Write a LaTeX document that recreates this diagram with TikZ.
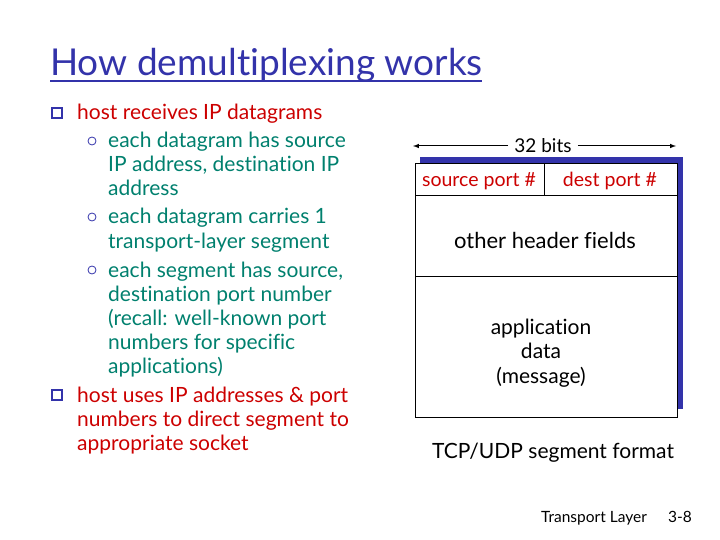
\documentclass[tikz,border=0pt]{standalone}
\usepackage{fontspec}
\setmainfont{Lato}[Ligatures=NoCommon]
\definecolor{tred}{RGB}{204,0,0}
\definecolor{tteal}{RGB}{0,128,110}
\definecolor{tblue}{RGB}{51,51,170}
\begin{document}
\begin{tikzpicture}[x=1pt,y=-1pt,
  l1/.style={anchor=base west,inner sep=0,text=tred,font=\fontsize{21}{24}\selectfont},
  l2/.style={anchor=base west,inner sep=0,text=tteal,font=\fontsize{21}{24}\selectfont},
  bx/.style={anchor=base,inner sep=0,font=\fontsize{21}{24}\selectfont},
  sq/.style={draw=tblue,line width=1.5pt,minimum size=10pt,inner sep=0},
  ci/.style={draw=tblue,circle,line width=0.8pt,minimum size=8pt,inner sep=0}]
\useasboundingbox (0,0) rectangle (720,540);
\node[anchor=base west,inner sep=0,text=tblue,font=\fontsize{37}{40}\selectfont] (title) at (50,76) {How demultiplexing works};
\draw[tblue,line width=1.2pt] (50,81) -- (482,81);
\node[sq] (b1) at (57,113) {};
\node[l1] (t1) at (77,120) {host receives IP datagrams};
\node[ci] (c1) at (92,141) {};
\node[l2] (t2) at (108,148) {each datagram has source};
\node[l2] (t3) at (108,172) {IP address, destination IP};
\node[l2] (t4) at (108,196) {address};
\node[ci] (c2) at (92,217) {};
\node[l2] (t5) at (108,224) {each datagram carries 1};
\node[l2] (t6) at (108,248) {transport-layer segment};
\node[ci] (c3) at (92,270) {};
\node[l2] (t7) at (108,277) {each segment has source,};
\node[l2] (t8) at (108,301) {destination port number};
\node[l2] (t9) at (108,325) {(recall: well-known port};
\node[l2] (t10) at (108,349) {numbers for specific};
\node[l2] (t11) at (108,373) {applications)};
\node[sq] (b2) at (57,395) {};
\node[l1] (t12) at (77,402) {host uses IP addresses \& port};
\node[l1] (t13) at (77,426) {numbers to direct segment to};
\node[l1] (t14) at (77,450) {appropriate socket};
% segment
\fill[tblue] (420,157) rectangle (683,409);
\draw[fill=white,line width=1pt] (415,164) rectangle (677,417);
\draw[line width=1pt] (415,196) -- (677,196) (415,276) -- (677,276) (544,164) -- (544,196);
\node[inner sep=0,font=\fontsize{19}{22}\selectfont] (bits) at (543,146) {32 bits};
\coordinate (al) at (413,146); \coordinate (ar) at (676,146);
\draw[-latex,line width=1pt] (bits.west) ++(-6,0) -- (al);
\draw[-latex,line width=1pt] (bits.east) ++(6,0) -- (ar);
\node[inner sep=0,text=tred,font=\fontsize{19.5}{22}\selectfont] (sp) at (479,181) {source port \#};
\node[inner sep=0,text=tred,font=\fontsize{19.5}{22}\selectfont] (dp) at (610,181) {dest port \#};
\node[bx,font=\fontsize{22}{24}\selectfont] (oh) at (545,248) {other header fields};
\node[bx] (ad) at (541,334) {application};
\node[bx] (ad2) at (541,358) {data};
\node[bx] (ad3) at (541,383) {(message)};
\node[bx] (fmt) at (553,458) {TCP/UDP segment format};
\node[anchor=base,inner sep=0,font=\fontsize{15.5}{18}\selectfont] (tl) at (594,522) {Transport Layer};
\node[anchor=base,inner sep=0,font=\fontsize{15.5}{18}\selectfont] (pg) at (680,522) {3-8};
\end{tikzpicture}
\end{document}
